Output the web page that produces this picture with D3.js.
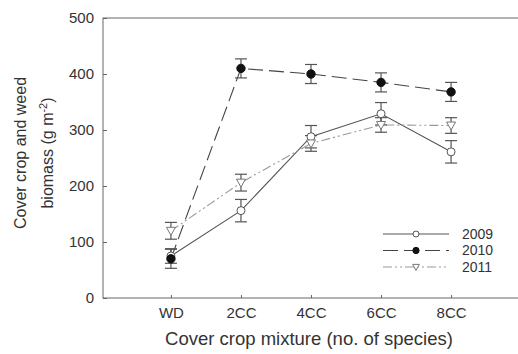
<!DOCTYPE html>
<html lang="en">
<head>
  <meta charset="utf-8">
  <title>Cover crop biomass</title>
  <script src="https://d3js.org/d3.v7.min.js"></script>
  <style type="text/css">
    body { margin: 0; background: #fff; }
    text { font-family: "Liberation Sans", Arial, sans-serif; fill: #333; }
  </style>
</head>
<body>
  <div id="chart"></div>
  <script type="text/javascript">
    const w = 518;
    const h = 354;

    const categories = ["WD", "2CC", "4CC", "6CC", "8CC"];
    const yTicks = [0, 100, 200, 300, 400, 500];
    const years = ["2009", "2010", "2011"];
    const mean2009 = [75, 156, 288, 329, 261];
    const err2009 = [13, 20, 20, 20, 20];
    const mean2010 = [70, 410, 400, 385, 368];
    const err2010 = [17, 17, 17, 17, 17];
    const mean2011 = [120, 206, 276, 309, 308];
    const err2011 = [15, 15, 14, 13, 14];

    const plotL = 103, plotR = 519, plotT = 18, plotB = 298;

    const series = [
      { name: years[0], mean: mean2009, err: err2009, dash: null, stroke: "#555", marker: "open" },
      { name: years[1], mean: mean2010, err: err2010, dash: "15,6", stroke: "#444", marker: "filled" },
      { name: years[2], mean: mean2011, err: err2011, dash: "9,3,2,3,2,3", stroke: "#999", marker: "tri" }
    ];

    const xScale = d3.scalePoint()
      .domain(categories)
      .range([plotL, plotR])
      .padding(0.97);

    const yScale = d3.scaleLinear()
      .domain([0, 500])
      .range([plotB, plotT]);

    const svg = d3.select("#chart")
      .append("svg")
      .attr("width", w)
      .attr("height", h);

    // frame
    svg.append("rect")
      .attr("x", plotL).attr("y", plotT)
      .attr("width", plotR - plotL).attr("height", plotB - plotT)
      .attr("fill", "none")
      .attr("stroke", "#666")
      .attr("stroke-width", 1);

    const leftAxis = d3.axisLeft(yScale).tickValues(yTicks).tickSizeInner(-4).tickSizeOuter(0).tickPadding(9);
    const gy = svg.append("g")
      .attr("transform", "translate(" + plotL + ",0)")
      .call(leftAxis);
    gy.select(".domain").remove();
    gy.selectAll("line").attr("stroke", "#666");
    gy.selectAll("text").style("font-size", "15px").attr("fill", "#333");

    const bottomAxis = d3.axisBottom(xScale).tickSizeInner(-3).tickSizeOuter(0).tickPadding(9);
    const gx = svg.append("g")
      .attr("transform", "translate(0," + plotB + ")")
      .call(bottomAxis);
    gx.select(".domain").remove();
    gx.selectAll("line").attr("stroke", "#666");
    gx.selectAll("text").style("font-size", "15px").attr("fill", "#333");

    function drawMarker(g, type, cx, cy, k) {
      if (type === "open") {
        g.append("circle").attr("cx", cx).attr("cy", cy).attr("r", 4 * k)
          .attr("fill", "#fff").attr("stroke", "#555").attr("stroke-width", 1);
      } else if (type === "filled") {
        g.append("circle").attr("cx", cx).attr("cy", cy).attr("r", 4.2 * k)
          .attr("fill", "#111").attr("stroke", "#111");
      } else {
        g.append("path")
          .attr("d", "M" + (cx - 4.5 * k) + "," + (cy - 3.5 * k) + "L" + (cx + 4.5 * k) + "," + (cy - 3.5 * k) + "L" + cx + "," + (cy + 4.5 * k) + "Z")
          .attr("fill", "#fff").attr("stroke", "#777").attr("stroke-width", 1);
      }
    }

    const line = d3.line()
      .x((d, i) => xScale(categories[i]))
      .y(d => yScale(d));

    // lines
    series.forEach(s => {
      svg.append("path")
        .datum(s.mean)
        .attr("d", line)
        .attr("fill", "none")
        .attr("stroke", s.stroke)
        .attr("stroke-width", 1.1)
        .attr("stroke-dasharray", s.dash);
    });

    // error bars
    series.forEach(s => {
      const g = svg.append("g");
      s.mean.forEach((m, i) => {
        const x = xScale(categories[i]);
        const y1 = yScale(m + s.err[i]), y2 = yScale(m - s.err[i]);
        g.append("line").attr("x1", x).attr("x2", x).attr("y1", y1).attr("y2", y2)
          .attr("stroke", "#555").attr("stroke-width", 1.2);
        [y1, y2].forEach(yy => {
          g.append("line").attr("x1", x - 6).attr("x2", x + 6).attr("y1", yy).attr("y2", yy)
            .attr("stroke", "#555").attr("stroke-width", 1.2);
        });
      });
    });

    // markers
    series.forEach(s => {
      const g = svg.append("g");
      s.mean.forEach((m, i) => drawMarker(g, s.marker, xScale(categories[i]), yScale(m), 1));
    });

    // legend
    const legend = svg.selectAll(".legend")
      .data(series)
      .enter().append("g")
      .attr("class", "legend")
      .attr("transform", (d, i) => "translate(0," + (234 + i * 16.5) + ")");

    legend.append("line")
      .attr("x1", 383).attr("x2", 449).attr("y1", 0).attr("y2", 0)
      .attr("stroke", d => d.stroke)
      .attr("stroke-width", 1.1)
      .attr("stroke-dasharray", d => d.dash);

    legend.each(function (d) { drawMarker(d3.select(this), d.marker, 416, 0, 0.75); });

    legend.append("text")
      .attr("x", 462)
      .attr("y", 0)
      .attr("dy", ".35em")
      .style("font-size", "14px")
      .text(d => d.name);

    // axis titles
    svg.append("text")
      .attr("x", 309)
      .attr("y", 345)
      .style("text-anchor", "middle")
      .style("font-size", "18.5px")
      .text("Cover crop mixture (no. of species)");

    const yt = svg.append("g")
      .attr("transform", "translate(0,153) rotate(-90)");
    yt.append("text")
      .attr("x", 0).attr("y", 26)
      .style("text-anchor", "middle")
      .style("font-size", "16px")
      .text("Cover crop and weed");
    const yt2 = yt.append("text")
      .attr("x", 0).attr("y", 53)
      .style("text-anchor", "middle")
      .style("font-size", "16px");
    yt2.append("tspan").text("biomass (g m");
    yt2.append("tspan").attr("dy", -6).style("font-size", "11px").text("-2");
    yt2.append("tspan").attr("dy", 6).text(")");
  </script>
</body>
</html>
